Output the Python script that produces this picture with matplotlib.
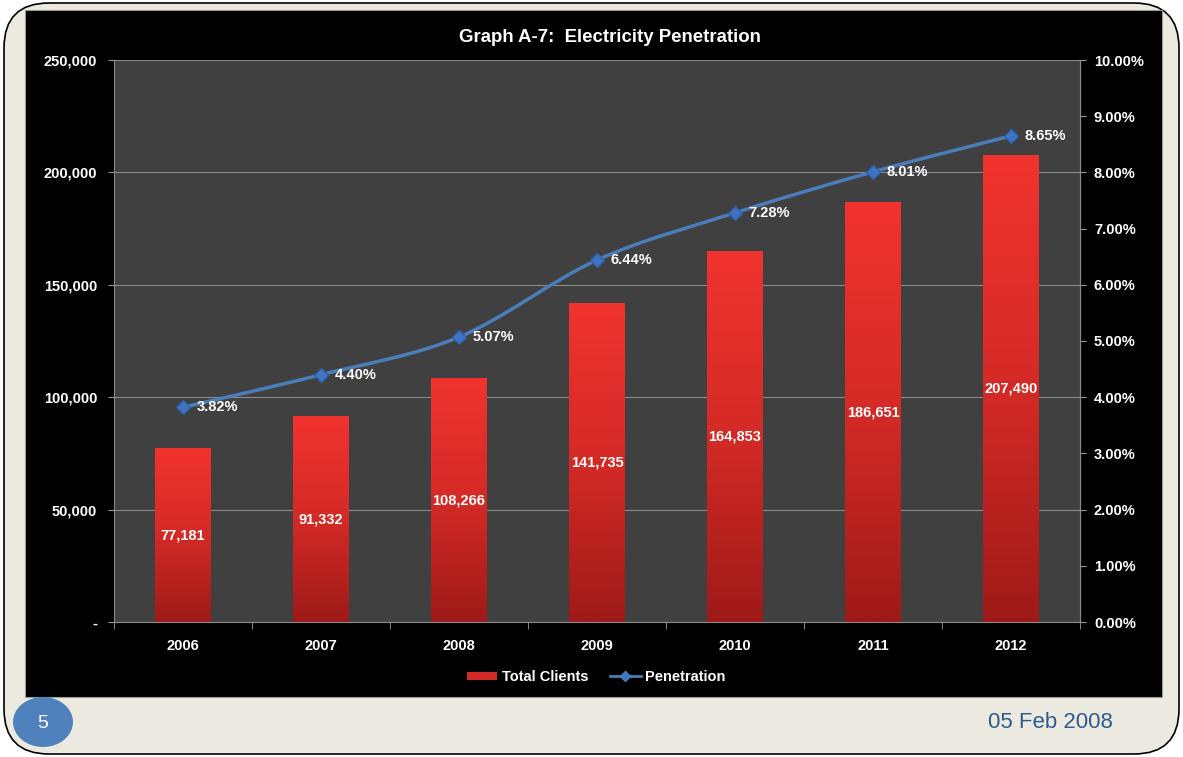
import matplotlib.pyplot as plt
import numpy as np
from matplotlib.patches import FancyBboxPatch, Rectangle, Ellipse
from matplotlib.path import Path
from matplotlib.patches import PathPatch
from matplotlib.lines import Line2D
from matplotlib.ticker import FuncFormatter
from matplotlib.colors import LinearSegmentedColormap

plt.rcParams['font.family'] = ['Liberation Sans', 'DejaVu Sans']

# Data
years = ['2006', '2007', '2008', '2009', '2010', '2011', '2012']
clients = [77181, 91332, 108266, 141735, 164853, 186651, 207490]
penetration = [3.82, 4.40, 5.07, 6.44, 7.28, 8.01, 8.65]

W, H = 1183, 757
fig = plt.figure(figsize=(W / 100, H / 100), dpi=100)
fig.patch.set_facecolor('white')

# slide frame
bg = fig.add_axes([0, 0, 1, 1])
bg.set_xlim(0, W)
bg.set_ylim(H, 0)
bg.axis('off')
bg.add_patch(FancyBboxPatch((4, 3), W - 8, H - 6, boxstyle='round,pad=0,rounding_size=45',
                            fc='#ECEAE0', ec='black', lw=1.2))
bg.add_patch(Rectangle((25, 10), 1137, 687, fc='black', ec='#9a9a9a', lw=0.8))
bg.add_patch(Ellipse((43, 722), 60, 50, fc='#4F81BD', ec='none'))
bg.text(43, 723, '5', color='white', fontsize=14, ha='center', va='center')
bg.text(1050, 722, '05 Feb 2008', color='#2C5B8E', fontsize=16, ha='center', va='center')
bg.text(610, 37, 'Graph A-7:  Electricity Penetration', color='white', fontsize=13.4,
        fontweight='bold', ha='center', va='center')

# chart axes
ax = fig.add_axes([114 / W, (H - 622) / H, 966 / W, 562 / H])
ax.set_facecolor('#404040')
x = np.arange(len(years))
bw = 0.4

grad = np.linspace(1, 0, 256).reshape(-1, 1)
cmap = LinearSegmentedColormap.from_list('red', ['#9E1A18', '#D42A26', '#F0332F'])
for xi, v in zip(x, clients):
    ax.imshow(grad, extent=[xi - bw / 2, xi + bw / 2, 0, v], aspect='auto', cmap=cmap,
              vmin=0, vmax=1, origin='upper', zorder=2)
    ax.text(xi, v / 2, f'{v:,}', color='white', fontsize=10.5, fontweight='bold',
            ha='center', va='center', zorder=4)
ax.set_xlim(-0.5, len(years) - 0.5)
ax.set_ylim(0, 250000)

ax.set_yticks(np.arange(0, 250001, 50000))
ax.yaxis.set_major_formatter(FuncFormatter(lambda v, p: '-' if v == 0 else f'{int(v):,}'))
ax.grid(axis='y', color='#8a8a8a', lw=0.8, zorder=1)
ax.set_axisbelow(True)
ax.set_xticks(x)
ax.set_xticklabels(years)
ax.set_xticks(np.arange(-0.5, len(years)), minor=True)
ax.tick_params(axis='x', which='major', length=0, pad=12, colors='white', labelsize=10.5)
ax.tick_params(axis='x', which='minor', length=5, color='#9a9a9a')
ax.tick_params(axis='y', length=4, color='#9a9a9a', colors='white', labelsize=10.5, pad=8)
for lab in ax.get_xticklabels() + ax.get_yticklabels():
    lab.set_fontweight('bold')
ax.spines['top'].set_visible(False)
for s in ['left', 'right', 'bottom']:
    ax.spines[s].set_color('#8a8a8a')

ax2 = ax.twinx()
ax2.set_ylim(0, 10)
ax2.set_yticks(np.arange(0, 10.01, 1))
ax2.yaxis.set_major_formatter(FuncFormatter(lambda v, p: f'{v:.2f}%'))
ax2.tick_params(axis='y', length=4, color='#9a9a9a', colors='white', labelsize=10.5, pad=6)
for lab in ax2.get_yticklabels():
    lab.set_fontweight('bold')
for s in ['top', 'left', 'bottom']:
    ax2.spines[s].set_visible(False)
ax2.spines['right'].set_color('#8a8a8a')

# smoothed line through the data points
pts = np.column_stack([x, penetration]).astype(float)
verts = [tuple(pts[0])]
codes = [Path.MOVETO]
n = len(pts)
for i in range(n - 1):
    p0 = pts[i - 1] if i > 0 else pts[i]
    p1, p2 = pts[i], pts[i + 1]
    p3 = pts[i + 2] if i + 2 < n else pts[i + 1]
    c1 = p1 + (p2 - p0) / 6
    c2 = p2 - (p3 - p1) / 6
    verts += [tuple(c1), tuple(c2), tuple(p2)]
    codes += [Path.CURVE4] * 3
ax2.add_patch(PathPatch(Path(verts, codes), fc='none', ec='#4A7EBB', lw=2.5, zorder=5))
ax2.plot(x, penetration, ls='none', marker='D', ms=7, color='#3F74C4', mec='#2F5FA8', zorder=6)
for xi, p in zip(x, penetration):
    ax2.text(xi + 0.1, p, f'{p:.2f}%', color='white', fontsize=10.5, fontweight='bold',
             ha='left', va='center', zorder=7)

handles = [Rectangle((0, 0), 1, 1, fc='#D42A26', ec='none'),
           Line2D([], [], color='#4A7EBB', lw=2, marker='D', ms=5, mfc='#3F74C4')]
leg = fig.legend(handles, ['Total Clients', 'Penetration'], loc='center',
                 bbox_to_anchor=(596 / W, (H - 677) / H), ncol=2, frameon=False,
                 handlelength=2.1, handleheight=0.5, handletextpad=0.3, columnspacing=1.5,
                 prop={'weight': 'bold', 'size': 10.5})
for t in leg.get_texts():
    t.set_color('white')

fig.savefig('out.png', dpi=100, facecolor=fig.get_facecolor())
